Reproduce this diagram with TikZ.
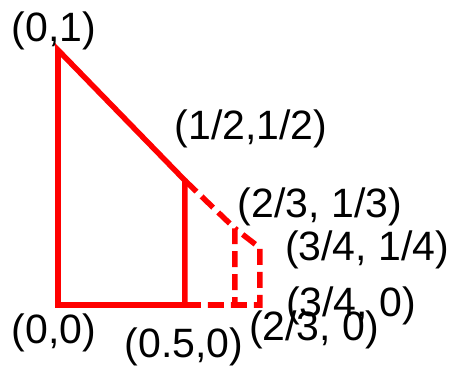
\documentclass[tikz,border=0pt]{standalone}
\usepackage{fontspec}
\setmainfont{Liberation Sans}
\usetikzlibrary{positioning}
\begin{document}
\begin{tikzpicture}[
  x=255bp, y=255bp,
  lab/.style={font=\fontsize{41bp}{49bp}\selectfont, inner sep=0pt, text=black},
  edge/.style={draw=red, line width=5.5bp, line join=miter},
  dashedge/.style={edge, dash pattern=on 16bp off 7bp}
]
\useasboundingbox (-58bp,-62bp) rectangle (395bp,305bp);
% corner points
\coordinate (o)  at (0,0);
\coordinate (t)  at (0,1);
\coordinate (h)  at (0.498,0.488);
\coordinate (hb) at (0.498,0);
\coordinate (d)  at (0.694,0.300);
\coordinate (db) at (0.694,0);
\coordinate (e)  at (0.792,0.224);
\coordinate (eb) at (0.792,0);

\draw[edge] (t) -- (o) -- (hb) -- (h) -- cycle;
\draw[dashedge] (h) -- (d) -- (db);
\draw[dashedge] (hb) -- (eb) -- (e) -- (d);

% labels
\node[lab] (lt)  at (-0.016,1.075) {(0,1)};
\node[lab] (lh)  at (0.757,0.690)  {(1/2,1/2)};
\node[lab] (ld)  at (1.027,0.384)  {(2/3, 1/3)};
\node[lab] (le)  at (1.212,0.218)  {(3/4, 1/4)};
\node[lab] (leb) at (1.149,-0.004) {(3/4, 0)};
\node[lab] (ldb) at (1.004,-0.098) {(2/3, 0)};
\node[lab] (lhb) at (0.494,-0.165) {(0.5,0)};
\node[lab] (lo)  at (-0.016,-0.110) {(0,0)};
\end{tikzpicture}
\end{document}
